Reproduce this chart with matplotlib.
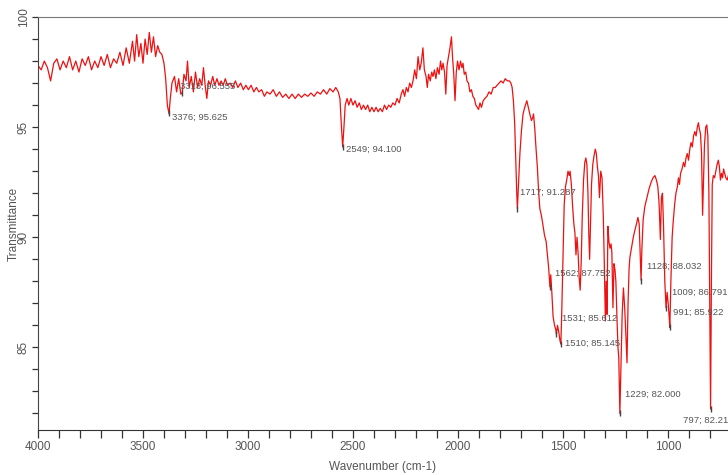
# FTIR spectrum, transmittance vs wavenumber, with labelled peaks

import numpy as np
import matplotlib.pyplot as plt
from matplotlib.ticker import MultipleLocator

# ---------- Data ----------

wavenumber = [
    4000, 3985, 3970, 3955, 3940, 3925, 3910, 3895, 3880, 3865, 3850, 3835, 3820, 3805, 3790,
    3775, 3760, 3745, 3730, 3715, 3700, 3685, 3670, 3655, 3640, 3625, 3610, 3595, 3580, 3565,
    3550, 3540, 3530, 3520, 3510, 3500, 3490, 3480, 3470, 3460, 3450, 3440, 3430, 3420, 3410,
    3400, 3392, 3384, 3376, 3370, 3362, 3350, 3340, 3330, 3320, 3313, 3305, 3295, 3288, 3280,
    3270, 3260, 3250, 3240, 3230, 3220, 3212, 3204, 3196, 3188, 3178, 3168, 3158, 3148, 3138,
    3128, 3118, 3108, 3098, 3085, 3072, 3060, 3048, 3035, 3022, 3010, 2998, 2985, 2972, 2960,
    2948, 2935, 2922, 2910, 2895, 2880, 2865, 2850, 2835, 2820, 2805, 2790, 2775, 2760, 2745,
    2730, 2715, 2700, 2685, 2670, 2655, 2640, 2625, 2610, 2595, 2582, 2570, 2562, 2556, 2549,
    2543, 2537, 2528, 2520, 2510, 2500, 2490, 2480, 2470, 2460, 2450, 2440, 2430, 2420, 2410,
    2400, 2390, 2380, 2370, 2360, 2350, 2340, 2330, 2320, 2310, 2300, 2290, 2280, 2270, 2262,
    2254, 2246, 2238, 2230, 2222, 2214, 2206, 2198, 2190, 2182, 2175, 2167, 2160, 2152, 2146,
    2140, 2132, 2125, 2119, 2112, 2105, 2098, 2090, 2083, 2077, 2071, 2064, 2058, 2052, 2045,
    2038, 2031, 2026, 2020, 2014, 2008, 2002, 1995, 1988, 1981, 1976, 1970, 1963, 1957, 1950,
    1943, 1936, 1929, 1922, 1915, 1908, 1902, 1895, 1888, 1880, 1872, 1862, 1852, 1842, 1832,
    1822, 1814, 1804, 1795, 1785, 1775, 1765, 1755, 1748, 1742, 1736, 1730, 1724, 1720, 1717,
    1712, 1705, 1698, 1690, 1682, 1672, 1665, 1658, 1650, 1645, 1640, 1634, 1628, 1622, 1616,
    1610, 1603, 1596, 1588, 1580, 1574, 1568, 1562, 1558, 1553, 1547, 1540, 1534, 1531, 1526,
    1520, 1514, 1510, 1506, 1500, 1494, 1488, 1482, 1476, 1470, 1466, 1460, 1454, 1448, 1443,
    1438, 1433, 1428, 1423, 1418, 1413, 1408, 1402, 1396, 1391, 1386, 1381, 1377, 1373, 1369,
    1364, 1358, 1352, 1346, 1341, 1336, 1331, 1326, 1320, 1314, 1308, 1303, 1298, 1294, 1290,
    1286, 1281, 1276, 1271, 1267, 1262, 1257, 1252, 1248, 1243, 1238, 1234, 1229, 1224, 1218,
    1212, 1206, 1200, 1195, 1190, 1185, 1181, 1172, 1165, 1158, 1150, 1143, 1137, 1133, 1128,
    1124, 1118, 1110, 1100, 1090, 1080, 1071, 1062, 1055, 1048, 1042, 1036, 1031, 1026, 1021,
    1015, 1009, 1004, 999, 995, 991, 986, 980, 975, 968, 962, 955, 950, 945, 940,
    933, 926, 920, 914, 908, 902, 896, 890, 884, 878, 872, 866, 860, 855, 850,
    845, 840, 835, 831, 826, 820, 815, 810, 805, 801, 797, 793, 789, 784, 778,
    772, 766, 760, 755, 750, 745, 740, 735, 730, 724, 718, 712,
]

transmittance = [
    97.8, 97.6, 98.0, 97.7, 97.1, 97.9, 98.1, 97.6, 98.0, 97.7, 98.2, 97.6, 98.0, 97.5, 98.1,
    97.8, 98.2, 97.6, 98.0, 97.7, 98.2, 97.8, 98.3, 97.7, 98.1, 97.9, 98.4, 97.8, 98.6, 97.9,
    98.9, 98.0, 99.2, 98.2, 98.8, 97.9, 99.0, 98.3, 99.3, 98.4, 99.1, 98.2, 98.7, 98.4, 98.3,
    97.9, 97.2, 96.0, 95.6, 96.3, 97.0, 97.3, 96.6, 97.2, 96.5, 96.55, 97.4, 97.1, 98.0, 96.8,
    97.3, 96.6, 97.5, 96.8, 97.2, 96.9, 97.7, 96.9, 96.3, 97.1, 96.9, 97.3, 96.9, 97.2, 96.9,
    97.1, 96.9, 97.2, 96.9, 97.0, 96.8, 97.1, 96.8, 97.0, 96.7, 96.9, 96.7, 96.9, 96.6, 96.8,
    96.6, 96.7, 96.4, 96.6, 96.5, 96.7, 96.4, 96.6, 96.35, 96.5, 96.3, 96.5, 96.3, 96.5, 96.35,
    96.5, 96.4, 96.55, 96.4, 96.6, 96.5, 96.7, 96.5, 96.75, 96.6, 96.8, 96.6, 96.3, 95.2, 94.1,
    95.0, 96.0, 96.3, 96.0, 96.3, 96.0, 96.2, 95.9, 96.1, 95.8, 96.0, 95.8, 96.0, 95.7, 95.9,
    95.7, 95.9, 95.7, 95.85, 95.7, 96.0, 95.8, 96.0, 95.9, 96.1, 96.0, 96.3, 96.1, 96.5, 96.7,
    96.4, 96.8, 96.6, 97.0, 96.8, 97.1, 97.6, 97.2, 98.2, 97.6, 97.9, 98.6, 97.6, 97.3, 96.8,
    97.4, 97.1, 97.5, 97.3, 97.6, 97.2, 97.7, 97.4, 98.0, 97.6, 97.9, 97.5, 96.5, 97.8, 98.2,
    98.6, 99.1, 98.2, 97.4, 96.2, 97.5, 98.0, 97.6, 98.0, 97.7, 97.9, 97.4, 97.5, 97.1, 97.0,
    96.6, 96.7, 96.4, 96.3, 96.0, 95.9, 95.8, 96.1, 95.9, 96.2, 96.3, 96.4, 96.6, 96.5, 96.8,
    96.8, 96.9, 97.0, 97.1, 97.0, 97.2, 97.1, 97.1, 97.0, 96.8, 96.2, 95.2, 93.2, 92.0, 91.3,
    92.3, 93.8, 94.8, 95.6, 95.9, 96.2, 95.9, 95.6, 95.3, 95.4, 95.6, 94.9, 94.0, 93.2, 92.1,
    91.3, 91.0, 90.6, 90.1, 89.8, 89.2, 88.6, 87.75, 88.3, 87.5, 86.4, 86.0, 85.8, 85.6, 86.0,
    85.7, 85.3, 85.15, 86.5, 89.0, 91.5, 92.3, 92.6, 93.0, 92.8, 93.0, 92.4, 91.4, 90.6, 90.2,
    89.2, 90.0, 89.3, 88.2, 87.6, 88.9, 91.0, 92.6, 93.4, 93.6, 93.3, 92.0, 90.2, 89.0, 90.5,
    92.4, 93.3, 93.7, 94.0, 93.8, 93.2, 92.8, 91.8, 93.0, 92.7, 91.0, 88.8, 86.2, 88.0, 86.5,
    90.5, 89.8, 89.5, 89.7, 89.3, 86.8, 88.8, 88.5, 88.0, 86.4, 85.0, 84.5, 82.0, 84.0, 86.5,
    87.7, 86.8, 85.5, 84.3, 87.0, 88.6, 89.1, 89.6, 90.0, 90.3, 90.6, 90.9, 90.6, 89.5, 88.05,
    89.5, 90.8, 91.4, 91.8, 92.2, 92.5, 92.7, 92.8, 92.6, 92.3, 91.5, 89.9, 91.8, 92.0, 90.5,
    88.0, 86.8, 87.5, 87.0, 86.5, 85.9, 88.0, 90.0, 90.7, 91.5, 92.0, 92.3, 92.7, 92.4, 92.9,
    93.1, 93.4, 93.2, 93.6, 93.8, 93.5, 94.0, 94.3, 94.1, 94.6, 94.8, 94.6, 95.0, 95.2, 94.9,
    94.7, 93.8, 91.0, 92.5, 94.2, 95.0, 95.1, 94.6, 92.0, 87.0, 82.2, 88.0, 92.4, 92.8, 92.7,
    93.0, 93.3, 93.5, 93.2, 92.6, 92.9, 92.7, 93.1, 92.9, 92.7, 92.6, 92.8,
]

# peak labels: text, peak position, where the text starts
peak_text = ["3376; 95.625", "3313; 96.555", "2549; 94.100", "1717; 91.287",
             "1562; 87.752", "1531; 85.612", "1510; 85.145", "1229; 82.000",
             "1128; 88.032", "1009; 86.791", "991; 85.922", "797; 82.217"]
peak_wn = [3376, 3313, 2549, 1717, 1562, 1531, 1510, 1229, 1128, 1009, 991, 797]
peak_t = [95.625, 96.555, 94.100, 91.287, 87.752, 85.612, 85.145, 82.000,
          88.032, 86.791, 85.922, 82.217]
text_wn = [3362, 3322, 2533, 1705, 1538, 1505, 1490, 1205, 1100, 981, 976, 928]
text_t = [95.45, 96.85, 94.0, 92.05, 88.36, 86.3, 85.18, 82.86, 88.7, 87.5, 86.6, 81.7]

# ---------- Plot ----------

plt.rcParams['font.family'] = ['Liberation Sans', 'DejaVu Sans']
tick_grey = '#555555'

fig = plt.figure(figsize=(7.28, 4.75), dpi=100)
ax = fig.add_axes([38/728, 45/475, 690/728, 413/475])

ax.plot(wavenumber, transmittance, color='#ee1111', lw=0.9)

ax.plot(peak_wn, peak_t, ls='none', marker='|', ms=4, mew=1, color='#444444')
for s, x, y in zip(peak_text, text_wn, text_t):
    ax.text(x, y, s, fontsize=6.8, color='#555555', ha='left', va='center', clip_on=False)

ax.set_xlim(4000, 714)
ax.set_ylim(81.25, 100)
ax.xaxis.set_major_locator(MultipleLocator(500))
ax.xaxis.set_minor_locator(MultipleLocator(100))
ax.yaxis.set_major_locator(MultipleLocator(5))
ax.yaxis.set_minor_locator(MultipleLocator(1))

ax.tick_params(axis='x', which='both', direction='out', length=6, width=0.9,
               colors='#333333', labelcolor=tick_grey, labelsize=8.5, pad=2)
ax.tick_params(axis='y', which='both', direction='out', length=4, width=0.9,
               colors='#333333', labelcolor=tick_grey, labelsize=8.5, pad=2)
for lab in ax.get_yticklabels():
    lab.set_rotation(90)
    lab.set_va('center')

ax.spines['right'].set_visible(False)
ax.spines['top'].set_color('#777777')
ax.spines['left'].set_color('#444444')
ax.spines['bottom'].set_color('#333333')

ax.set_xlabel('Wavenumber (cm-1)', fontsize=8.5, color=tick_grey, labelpad=6)
ax.set_ylabel('Transmittance', fontsize=8.5, color=tick_grey)
ax.yaxis.set_label_coords(-0.026, 0.5)

fig.savefig('out.png', dpi=100)
